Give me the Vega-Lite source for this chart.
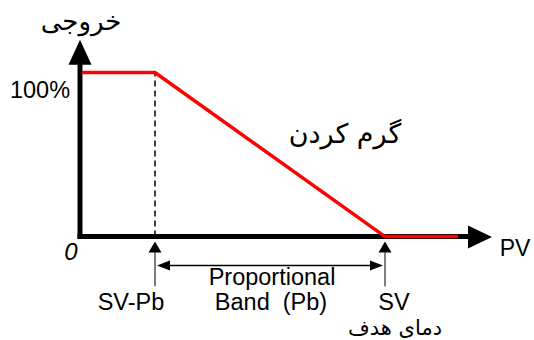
{
  "$schema": "https://vega.github.io/schema/vega-lite/v6.json",
  "width": 534,
  "height": 340,
  "padding": 0,
  "autosize": {"type": "fit", "contains": "padding"},
  "background": "white",
  "config": {"view": {"stroke": null}, "text": {"font": "Liberation Sans, Arial, DejaVu Sans"}},
  "datasets": {
    "red": [{"x": 2, "y": 100, "o": 1}, {"x": 75, "y": 100, "o": 2}, {"x": 305, "y": 0, "o": 3}, {"x": 378, "y": 0, "o": 4}],
    "axes": [
      {"seg": "y", "x": 0, "y": -1.5, "o": 1}, {"seg": "y", "x": 0, "y": 106, "o": 2},
      {"seg": "x", "x": -2.5, "y": 0, "o": 1}, {"seg": "x", "x": 390, "y": 0, "o": 2}
    ],
    "dash": [{"x": 75, "y": 0, "o": 1}, {"x": 75, "y": 100, "o": 2}],
    "ticks": [
      {"seg": "a", "x": 75, "y": -9.5, "o": 1}, {"seg": "a", "x": 75, "y": -30.3, "o": 2},
      {"seg": "b", "x": 305, "y": -9.5, "o": 1}, {"seg": "b", "x": 305, "y": -30.3, "o": 2}
    ],
    "band": [{"x": 85, "y": -17.6, "o": 1}, {"x": 295, "y": -17.6, "o": 2}],
    "upArrows": [{"x": 0, "y": 112.4}],
    "rightArrows": [{"x": 400, "y": -0.3}],
    "smallUp": [{"x": 75, "y": -6.4}, {"x": 305, "y": -6.4}],
    "bandLeft": [{"x": 83.5, "y": -17.6}],
    "bandRight": [{"x": 296.5, "y": -17.6}],
    "labels24": [
      {"x": 192, "y": -29.7, "t": "Proportional"},
      {"x": 191, "y": -44.8, "t": "Band\u00a0 (Pb)"},
      {"x": 51, "y": -44.8, "t": "SV-Pb"},
      {"x": 314, "y": -44.8, "t": "SV"},
      {"x": -40, "y": 84.2, "t": "100%"}
    ],
    "labelPV": [{"x": 435, "y": -12.1, "t": "PV"}],
    "labelZero": [{"x": -9, "y": -14.5, "t": "0"}],
    "labelOut": [{"x": 1, "y": 130.5, "t": "خروجی"}],
    "labelHeat": [{"x": 265, "y": 62, "t": "گرم کردن"}],
    "labelFaSmall": [{"x": 315, "y": -56.5, "t": "دمای هدف"}]
  },
  "encoding": {
    "x": {"field": "x", "type": "quantitative", "axis": null, "scale": {"domain": [-80, 454], "nice": false, "zero": false}},
    "y": {"field": "y", "type": "quantitative", "axis": null, "scale": {"domain": [-61.8, 144.2], "nice": false, "zero": false}}
  },
  "layer": [
    {"data": {"name": "dash"}, "mark": {"type": "line", "color": "black", "strokeWidth": 1.5, "strokeDash": [6, 4]}, "encoding": {"order": {"field": "o"}}},
    {"data": {"name": "ticks"}, "mark": {"type": "line", "color": "#555555", "strokeWidth": 1.5}, "encoding": {"detail": {"field": "seg"}, "order": {"field": "o"}}},
    {"data": {"name": "band"}, "mark": {"type": "line", "color": "black", "strokeWidth": 1.5}, "encoding": {"order": {"field": "o"}}},
    {"data": {"name": "axes"}, "mark": {"type": "line", "color": "black", "strokeWidth": 5, "strokeCap": "butt"}, "encoding": {"detail": {"field": "seg"}, "order": {"field": "o"}}},
    {"data": {"name": "red"}, "mark": {"type": "line", "color": "#ff0000", "strokeWidth": 3.5}, "encoding": {"order": {"field": "o"}}},
    {"data": {"name": "upArrows"}, "mark": {"type": "point", "shape": "M0,-1L-0.92,1L0.92,1Z", "filled": true, "color": "black", "size": 625, "opacity": 1, "strokeWidth": 0}},
    {"data": {"name": "rightArrows"}, "mark": {"type": "point", "shape": "M1,0L-1,-0.96L-1,0.96Z", "filled": true, "color": "black", "size": 576, "opacity": 1, "strokeWidth": 0}},
    {"data": {"name": "smallUp"}, "mark": {"type": "point", "shape": "M0,-1L-1.18,1L1.18,1Z", "filled": true, "color": "black", "size": 121, "opacity": 1, "strokeWidth": 0}},
    {"data": {"name": "bandLeft"}, "mark": {"type": "point", "shape": "M-1,0L1,-0.77L1,0.77Z", "filled": true, "color": "black", "size": 169, "opacity": 1, "strokeWidth": 0}},
    {"data": {"name": "bandRight"}, "mark": {"type": "point", "shape": "M1,0L-1,-0.77L-1,0.77Z", "filled": true, "color": "black", "size": 169, "opacity": 1, "strokeWidth": 0}},
    {"data": {"name": "labels24"}, "mark": {"type": "text", "fontSize": 23.5, "color": "black", "baseline": "alphabetic", "align": "center"}, "encoding": {"text": {"field": "t"}}},
    {"data": {"name": "labelPV"}, "mark": {"type": "text", "fontSize": 23, "color": "black", "baseline": "alphabetic", "align": "center"}, "encoding": {"text": {"field": "t"}}},
    {"data": {"name": "labelZero"}, "mark": {"type": "text", "fontSize": 24, "fontStyle": "italic", "color": "black", "baseline": "alphabetic", "align": "center", "font": "Liberation Sans"}, "encoding": {"text": {"field": "t"}}},
    {"data": {"name": "labelOut"}, "mark": {"type": "text", "fontSize": 26, "color": "black", "baseline": "middle", "align": "center", "font": "DejaVu Sans"}, "encoding": {"text": {"field": "t"}}},
    {"data": {"name": "labelHeat"}, "mark": {"type": "text", "fontSize": 27, "color": "black", "baseline": "middle", "align": "center", "font": "DejaVu Sans"}, "encoding": {"text": {"field": "t"}}},
    {"data": {"name": "labelFaSmall"}, "mark": {"type": "text", "fontSize": 21, "color": "black", "baseline": "middle", "align": "center", "font": "DejaVu Sans"}, "encoding": {"text": {"field": "t"}}}
  ]
}
